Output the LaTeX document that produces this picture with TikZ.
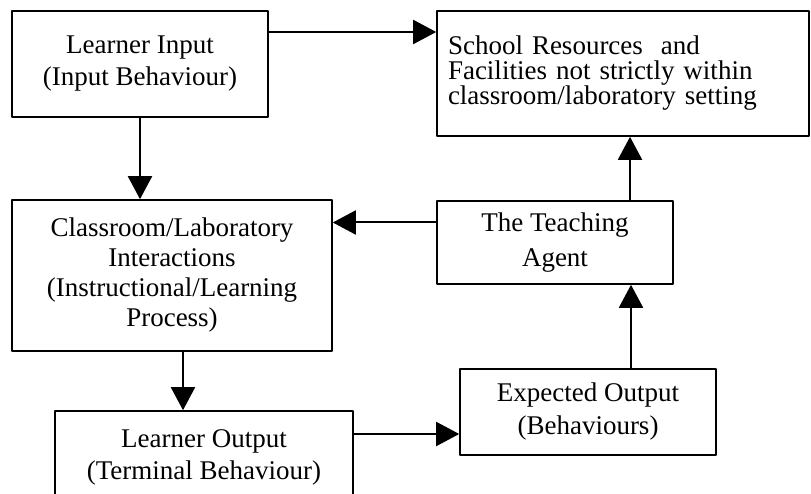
\documentclass[tikz,border=0pt]{standalone}
\usepackage{fontspec}
\setmainfont{Liberation Serif}
\usetikzlibrary{arrows.meta}
\newcommand{\bxfont}[1]{\fontsize{27}{#1}\selectfont}

\begin{document}
\begin{tikzpicture}[x=1pt,y=-1pt,line cap=round,line join=round,
    >={Triangle[length=23pt,width=24pt]},
    blk/.style={draw,line width=1.6pt,inner sep=0pt,align=center},
    flow/.style={->,line width=2pt}]
  \useasboundingbox (0,0) rectangle (811,494);
  \clip (0,0) rectangle (811,494);
  % boxes
  \node [blk,minimum width=256pt,minimum height=106pt,font=\bxfont{32}] (input) at (140,64) {Learner Input\\(Input Behaviour)};
  \node [blk,minimum width=372pt,minimum height=125pt,text width=350pt,inner xsep=11pt,align=left,font=\bxfont{24.5}] (resources) at (623,73.5) {School Resources~ and\\Facilities not strictly within\\classroom/laboratory setting};
  \node [blk,minimum width=320pt,minimum height=151pt,font=\bxfont{30}] (classroom) at (172,275.5) {Classroom/Laboratory\\Interactions\\(Instructional/Learning\\Process)};
  \node [blk,minimum width=236pt,minimum height=83pt,font=\bxfont{35}] (agent) at (555,242.5) {The Teaching\\Agent};
  \node [blk,minimum width=256pt,minimum height=86pt,font=\bxfont{33}] (expected) at (588,412) {Expected Output\\(Behaviours)};
  \node [blk,minimum width=298pt,minimum height=92pt,font=\bxfont{32}] (output) at (204,457) {Learner Output\\(Terminal Behaviour)};
  % connectors
  \coordinate (inR) at ([yshift=32pt]input.east);
  \draw [flow] (inR) -- (inR -| resources.west);
  \draw [flow] (input.south) -- (input.south |- classroom.north);
  \coordinate (agL) at ([yshift=20pt]agent.west);
  \draw [flow] (agL) -- (agL -| classroom.east);
  \coordinate (agT) at ([xshift=75pt]agent.north);
  \draw [flow] (agT) -- (agT |- resources.south);
  \coordinate (clB) at ([xshift=11pt]classroom.south);
  \draw [flow] (clB) -- (clB |- output.north);
  \coordinate (outR) at ([yshift=23pt]output.east);
  \draw [flow] (outR) -- (outR -| expected.west);
  \coordinate (exT) at ([xshift=43pt]expected.north);
  \draw [flow] (exT) -- (exT |- agent.south);
\end{tikzpicture}
\end{document}
